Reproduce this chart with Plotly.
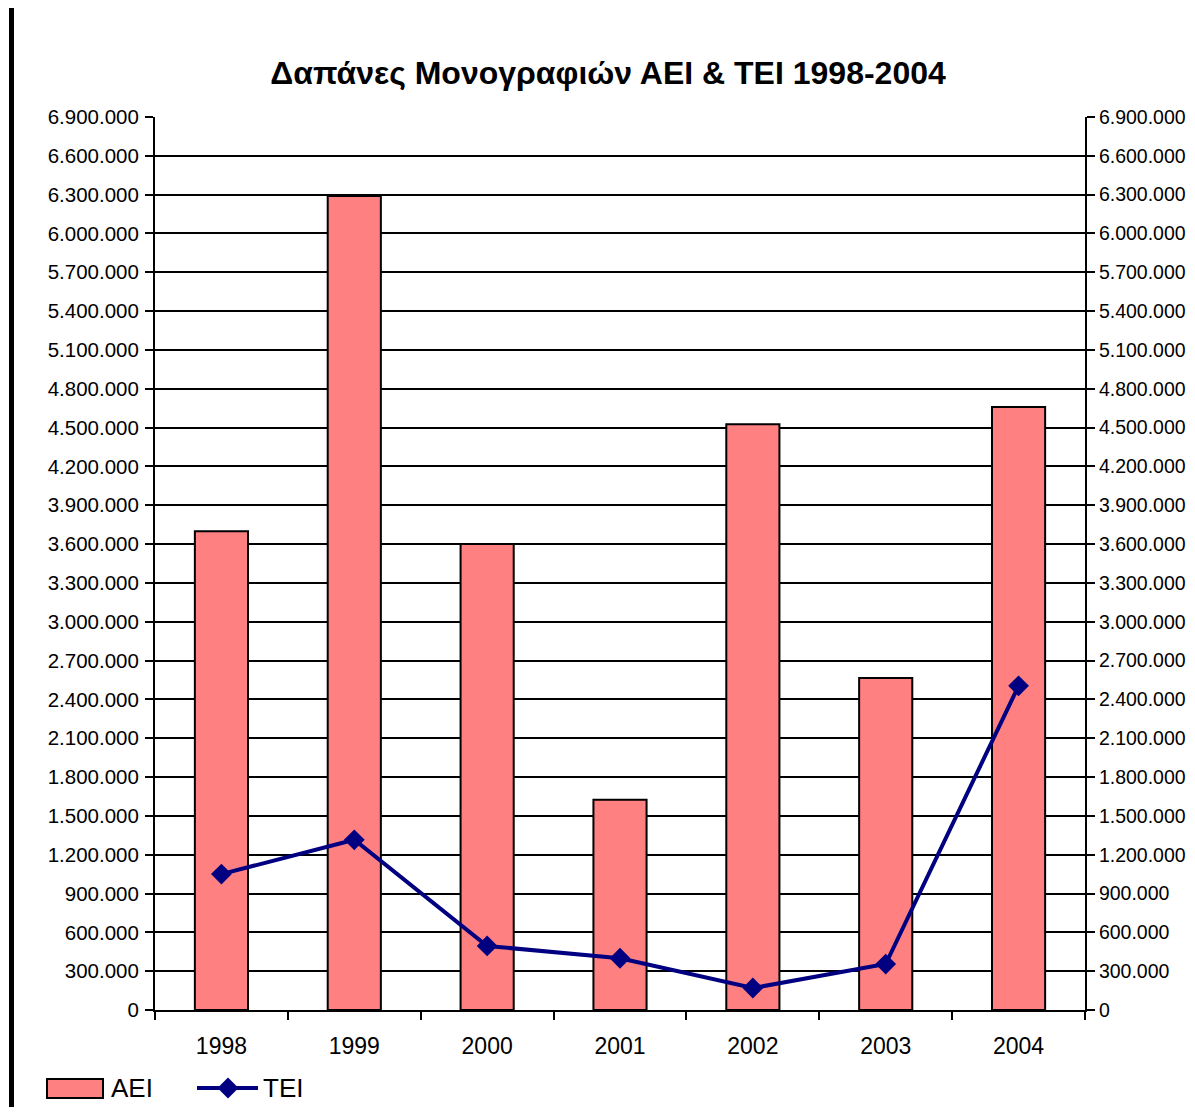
import plotly.graph_objects as go

# Data
years = ["1998", "1999", "2000", "2001", "2002", "2003", "2004"]
aei = [3700000, 6290000, 3600000, 1625000, 4525000, 2565000, 4660000]
tei = [1050000, 1315000, 495000, 400000, 170000, 355000, 2505000]

y_ticks = list(range(0, 6900001, 300000))

FONT = "Liberation Sans, Arial, sans-serif"
BAR_COLOR = "#FF8080"
LINE_COLOR = "#000080"

# the page body adds an 8px margin on each side, so the figure is shrunk to fit
OFF = 8
W, H = 1195 - 2 * OFF, 1115 - 2 * OFF
# plot area in page pixels
L, R, T, B = 155, 1085, 117, 1010


def px(x):
    return (x - L) / (R - L)


def py(y):
    return (B - y) / (B - T)


fig = go.Figure()

fig.add_trace(go.Bar(
    x=years, y=aei, name="ΑΕΙ",
    marker=dict(color=BAR_COLOR, line=dict(color="black", width=2)),
    width=0.4,
))

fig.add_trace(go.Scatter(
    x=years, y=tei, name="ΤΕΙ", mode="lines+markers",
    line=dict(color=LINE_COLOR, width=4),
    marker=dict(symbol="diamond", size=16, color=LINE_COLOR),
))

# invisible trace to carry the mirrored right axis
fig.add_trace(go.Scatter(x=years, y=tei, yaxis="y2", showlegend=False,
                         mode="lines", line=dict(width=0), hoverinfo="skip"))

axis_common = dict(
    range=[0, 6900000],
    tickvals=y_ticks,
    tickformat=",d",
    ticks="outside",
    ticklen=8,
    tickwidth=2,
    tickcolor="black",
    showline=True,
    linecolor="black",
    linewidth=2,
    zeroline=False,
    automargin=False,
)

fig.update_layout(
    width=W,
    height=H,
    separators=",.",
    paper_bgcolor="white",
    plot_bgcolor="white",
    font=dict(family=FONT, color="black"),
    title=dict(text="<b>Δαπάνες Μονογραφιών ΑΕΙ & ΤΕΙ 1998-2004</b>",
               x=(608 - OFF) / W, xanchor="center", yref="container",
               y=1 - (73 - OFF) / H, yanchor="middle",
               font=dict(family=FONT, size=32, color="black")),
    margin=dict(l=L - OFF, r=W - (R - OFF), t=T - OFF, b=H - (B - OFF), pad=0),
    bargap=0.6,
    showlegend=False,
    xaxis=dict(
        type="category",
        tickson="boundaries",
        ticks="outside",
        ticklen=8,
        tickwidth=2,
        tickcolor="black",
        showline=True,
        linecolor="black",
        linewidth=2,
        showgrid=False,
        tickfont=dict(family=FONT, size=23, color="black"),
        ticklabelstandoff=14,
        automargin=False,
    ),
    yaxis=dict(showgrid=True, gridcolor="black", gridwidth=2,
               ticklabelstandoff=2,
               tickfont=dict(family=FONT, size=20.5, color="black"), **axis_common),
    yaxis2=dict(overlaying="y", side="right", showgrid=False,
                ticklabelstandoff=0,
                tickfont=dict(family=FONT, size=19.5, color="black"), **axis_common),
)

# thick black bar along the left edge of the page
fig.add_shape(type="line", xref="paper", yref="paper",
              x0=px(11.5), x1=px(11.5), y0=py(1115), y1=py(0),
              line=dict(color="black", width=5))

# legend drawn by hand to get the wide Excel-style swatches
fig.add_shape(type="rect", xref="paper", yref="paper",
              x0=px(47), x1=px(103), y0=py(1098), y1=py(1079),
              fillcolor=BAR_COLOR, line=dict(color="black", width=2))
fig.add_shape(type="line", xref="paper", yref="paper",
              x0=px(197), x1=px(258), y0=py(1088), y1=py(1088),
              line=dict(color=LINE_COLOR, width=4))
cx, cy, h = 228, 1088, 10.5
fig.add_shape(type="path", xref="paper", yref="paper",
              path=(f"M {px(cx - h)} {py(cy)} L {px(cx)} {py(cy - h)} "
                    f"L {px(cx + h)} {py(cy)} L {px(cx)} {py(cy + h)} Z"),
              fillcolor=LINE_COLOR, line=dict(color=LINE_COLOR, width=0))
for label, x0 in [("ΑΕΙ", 109), ("ΤΕΙ", 261)]:
    fig.add_annotation(text=label, xref="paper", yref="paper",
                       x=px(x0), y=py(1088), xanchor="left", yanchor="middle",
                       showarrow=False, font=dict(family=FONT, size=26, color="black"))

fig.write_html("out.html")
